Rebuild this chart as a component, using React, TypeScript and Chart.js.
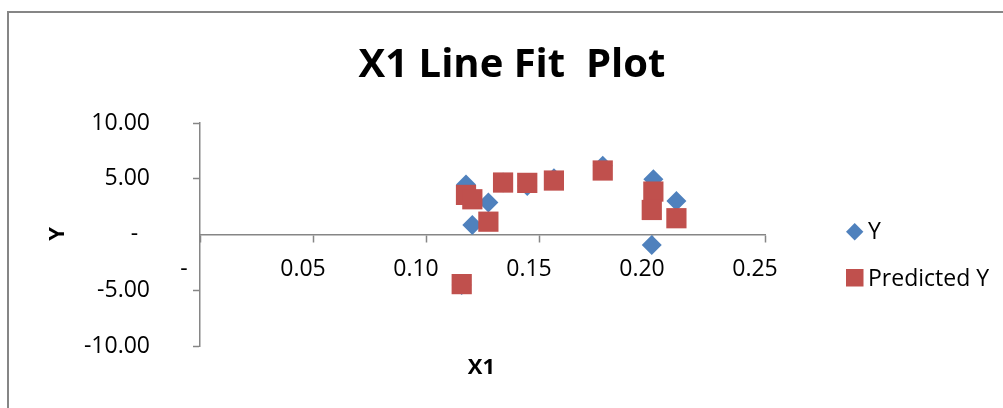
import { useEffect, useRef } from "react";
import { Chart, registerables } from "chart.js";

Chart.register(...registerables);

// Observations: X1 value, observed Y and the regression's predicted Y
const x1Values = [0.1177, 0.1205, 0.1276, 0.1341, 0.1448, 0.1566, 0.1782, 0.2006, 0.1999, 0.2108, 0.1158];
const yValues = [4.48, 0.85, 2.86, 4.66, 4.36, 5.05, 6.16, 4.96, -0.94, 3.01, -4.54];
const predictedY = [3.55, 3.16, 1.15, 4.66, 4.63, 4.84, 5.74, 3.85, 2.2, 1.46, -4.45];

// Axis ranges and steps
const xRange = [0, 0.25];
const xStep = 0.05;
const yRange = [-10, 10];
const yStep = 5;

const chartTitle = "X1 Line Fit  Plot";
const xTitle = "X1";
const yTitle = "Y";
const seriesNames = ["Y", "Predicted Y"];

const BLUE = "#4F81BD";
const RED = "#C0504D";
const AXIS_GREY = "#868686";
const FONT = '"Open Sans", sans-serif';

// Accounting-style number format: zero shows as a dash
const formatTick = (v: number) => (Math.abs(v) < 1e-9 ? "-  " : v.toFixed(2));

const decorations = {
  id: "decorations",
  beforeDraw(chart: any) {
    const { ctx, width, height } = chart;
    ctx.save();
    ctx.fillStyle = "#ffffff";
    ctx.fillRect(0, 0, width, height);
    ctx.strokeStyle = AXIS_GREY;
    ctx.lineWidth = 2;
    ctx.strokeRect(8, 12, width + 40, height + 40);
    ctx.restore();
  },
  afterDraw(chart: any) {
    const { ctx } = chart;
    ctx.save();
    ctx.fillStyle = "#000000";

    // chart title
    ctx.font = `bold 40px ${FONT}`;
    ctx.textAlign = "center";
    ctx.textBaseline = "alphabetic";
    ctx.fillText(chartTitle, 512, 77);

    // axis titles
    ctx.font = `bold 22px ${FONT}`;
    ctx.fillText(xTitle, 481.5, 374);
    ctx.save();
    ctx.translate(64, 234);
    ctx.rotate(-Math.PI / 2);
    ctx.fillText(yTitle, 0, 0);
    ctx.restore();

    // legend
    ctx.font = `23px ${FONT}`;
    ctx.textAlign = "left";
    ctx.fillStyle = BLUE;
    ctx.beginPath();
    ctx.moveTo(854.7, 223);
    ctx.lineTo(863.4, 231.7);
    ctx.lineTo(854.7, 240.4);
    ctx.lineTo(846, 231.7);
    ctx.closePath();
    ctx.fill();
    ctx.fillStyle = RED;
    ctx.fillRect(846, 269, 17.5, 17.5);
    ctx.fillStyle = "#000000";
    ctx.fillText(seriesNames[0], 868, 239);
    ctx.fillText(seriesNames[1], 868, 285.5);
    ctx.restore();
  },
};

export default function App() {
  const canvasRef = useRef<HTMLCanvasElement>(null);

  useEffect(() => {
    const canvas = canvasRef.current;
    if (!canvas) return;
    const chart = new Chart(canvas, {
      type: "scatter",
      data: {
        datasets: [
          {
            label: seriesNames[0],
            data: x1Values.map((x, i) => ({ x, y: yValues[i] })),
            pointStyle: "rectRot",
            pointRadius: 10,
            backgroundColor: BLUE,
            borderColor: BLUE,
            borderWidth: 0,
            order: 2,
          },
          {
            label: seriesNames[1],
            data: x1Values.map((x, i) => ({ x, y: predictedY[i] })),
            pointStyle: "rect",
            pointRadius: 14.3,
            backgroundColor: RED,
            borderColor: RED,
            borderWidth: 0,
            order: 1,
          },
        ],
      },
      options: {
        responsive: false,
        animation: false,
        devicePixelRatio: 1,
        events: [],
        layout: { padding: { top: 123, bottom: 62, left: 80, right: 238 } },
        plugins: {
          legend: { display: false },
          title: { display: false },
          tooltip: { enabled: false },
        },
        scales: {
          x: {
            type: "linear",
            position: { y: 0 } as any,
            min: xRange[0],
            max: xRange[1],
            ticks: {
              stepSize: xStep,
              callback: (v: any) => formatTick(Number(v)),
              font: { family: FONT, size: 23 },
              color: "#000000",
              padding: 14,
              labelOffset: -10,
              maxRotation: 0,
              autoSkip: false,
            },
            grid: {
              drawOnChartArea: false,
              drawTicks: true,
              tickLength: 7,
              tickWidth: 1.5,
              tickColor: AXIS_GREY,
            },
            border: { display: true, color: AXIS_GREY, width: 1.5 },
          },
          y: {
            type: "linear",
            min: yRange[0],
            max: yRange[1],
            afterFit: (scale: any) => {
              scale.width = 120;
            },
            ticks: {
              stepSize: yStep,
              callback: (v: any) => formatTick(Number(v)),
              font: { family: FONT, size: 23 },
              color: "#000000",
              padding: 43,
            },
            grid: {
              drawOnChartArea: false,
              drawTicks: true,
              tickLength: 7,
              tickWidth: 1.5,
              tickColor: (c: any) => (c.tick && c.tick.value === 0 ? "rgba(0,0,0,0)" : AXIS_GREY),
            },
            border: { display: true, color: AXIS_GREY, width: 1.5 },
          },
        },
      },
      plugins: [decorations],
    });
    return () => chart.destroy();
  }, []);

  return (
    <div style={{ position: "fixed", left: 0, top: 0, width: 1003, height: 408, background: "#ffffff" }}>
      <canvas ref={canvasRef} width={1003} height={408} style={{ display: "block" }} />
    </div>
  );
}
